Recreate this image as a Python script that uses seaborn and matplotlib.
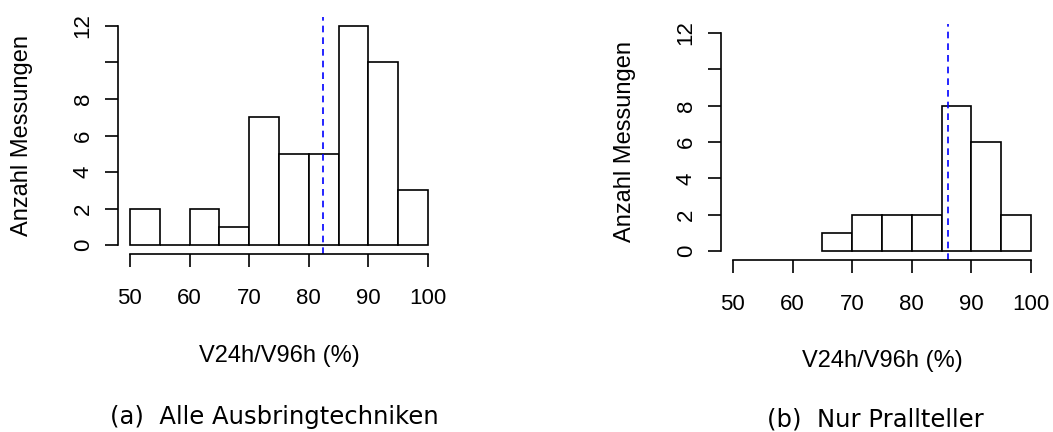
import matplotlib
matplotlib.use("Agg")
import matplotlib.pyplot as plt
import seaborn as sns

# histogram bins (5 % wide) and counts
edges_all = [50, 55, 60, 65, 70, 75, 80, 85, 90, 95, 100]
mids_all = [52.5, 57.5, 62.5, 67.5, 72.5, 77.5, 82.5, 87.5, 92.5, 97.5]
counts_all = [2, 0, 2, 1, 7, 5, 5, 12, 10, 3]

edges_prall = [65, 70, 75, 80, 85, 90, 95, 100]
mids_prall = [67.5, 72.5, 77.5, 82.5, 87.5, 92.5, 97.5]
counts_prall = [1, 2, 2, 2, 8, 6, 2]

# dashed reference lines (median)
median_all = 82.4
median_prall = 86.1

x_ticks = [50, 60, 70, 80, 90, 100]
y_ticks = [0, 2, 4, 6, 8, 10, 12]
y_ticklabels = ["0", "2", "4", "6", "8", "", "12"]

x_label = "V24h/V96h (%)"
y_label = "Anzahl Messungen"
captions = ["(a)  Alle Ausbringtechniken", "(b)  Nur Prallteller"]

sns.set_style("white")
plt.rcParams["font.family"] = ["Liberation Sans", "DejaVu Sans"]
plt.rcParams["text.color"] = "black"
plt.rcParams["axes.labelcolor"] = "black"
plt.rcParams["xtick.color"] = "black"
plt.rcParams["ytick.color"] = "black"

W, H = 1053, 432
fig = plt.figure(figsize=(W / 100, H / 100), dpi=100)

# axes boxes in pixels: left, top, right, bottom
boxes = [(118, 17.2, 440, 253.8), (721, 24.3, 1043, 259.7)]
caption_pos = [(274, 417), (875, 420)]

def draw_panel(box, mids, edges, counts, med, cap, cpos):
    l, t, r, b = box
    ax = fig.add_axes([l / W, (H - b) / H, (r - l) / W, (b - t) / H])
    sns.histplot(x=mids, weights=counts, bins=edges, ax=ax,
                 color="white", edgecolor="black", linewidth=1.2, alpha=1)
    ax.axvline(med, color="blue", linestyle=(0, (4, 3)), linewidth=1.2)
    ax.set_xlim(48, 102)
    ax.set_ylim(-0.48, 12.48)
    for s in ["top", "right"]:
        ax.spines[s].set_visible(False)
    ax.spines["left"].set_bounds(0, 12)
    ax.spines["bottom"].set_bounds(50, 100)
    for s in ["left", "bottom"]:
        ax.spines[s].set_color("black")
        ax.spines[s].set_linewidth(1.2)
    ax.set_xticks(x_ticks)
    ax.set_yticks(y_ticks)
    ax.set_yticklabels(y_ticklabels, rotation=90, va="center")
    ax.tick_params(axis="both", length=9.5, width=1.2, color="black",
                   direction="out", labelsize=16, labelcolor="black",
                   left=True, bottom=True)
    ax.tick_params(axis="x", pad=15)
    ax.tick_params(axis="y", pad=8)
    ax.set_xlabel(x_label, fontsize=17, color="black")
    ax.set_ylabel(y_label, fontsize=17, color="black")
    ax.xaxis.set_label_coords(0.5, -0.385)
    ax.yaxis.set_label_coords(-0.265, 0.5)
    fig.text(cpos[0] / W, 1 - cpos[1] / H, cap, ha="center", va="center",
             fontsize=17.5, color="black", family=["DejaVu Sans"])
    return ax

draw_panel(boxes[0], mids_all, edges_all, counts_all, median_all,
           captions[0], caption_pos[0])
draw_panel(boxes[1], mids_prall, edges_prall, counts_prall, median_prall,
           captions[1], caption_pos[1])

fig.savefig("out.png", dpi=100)
